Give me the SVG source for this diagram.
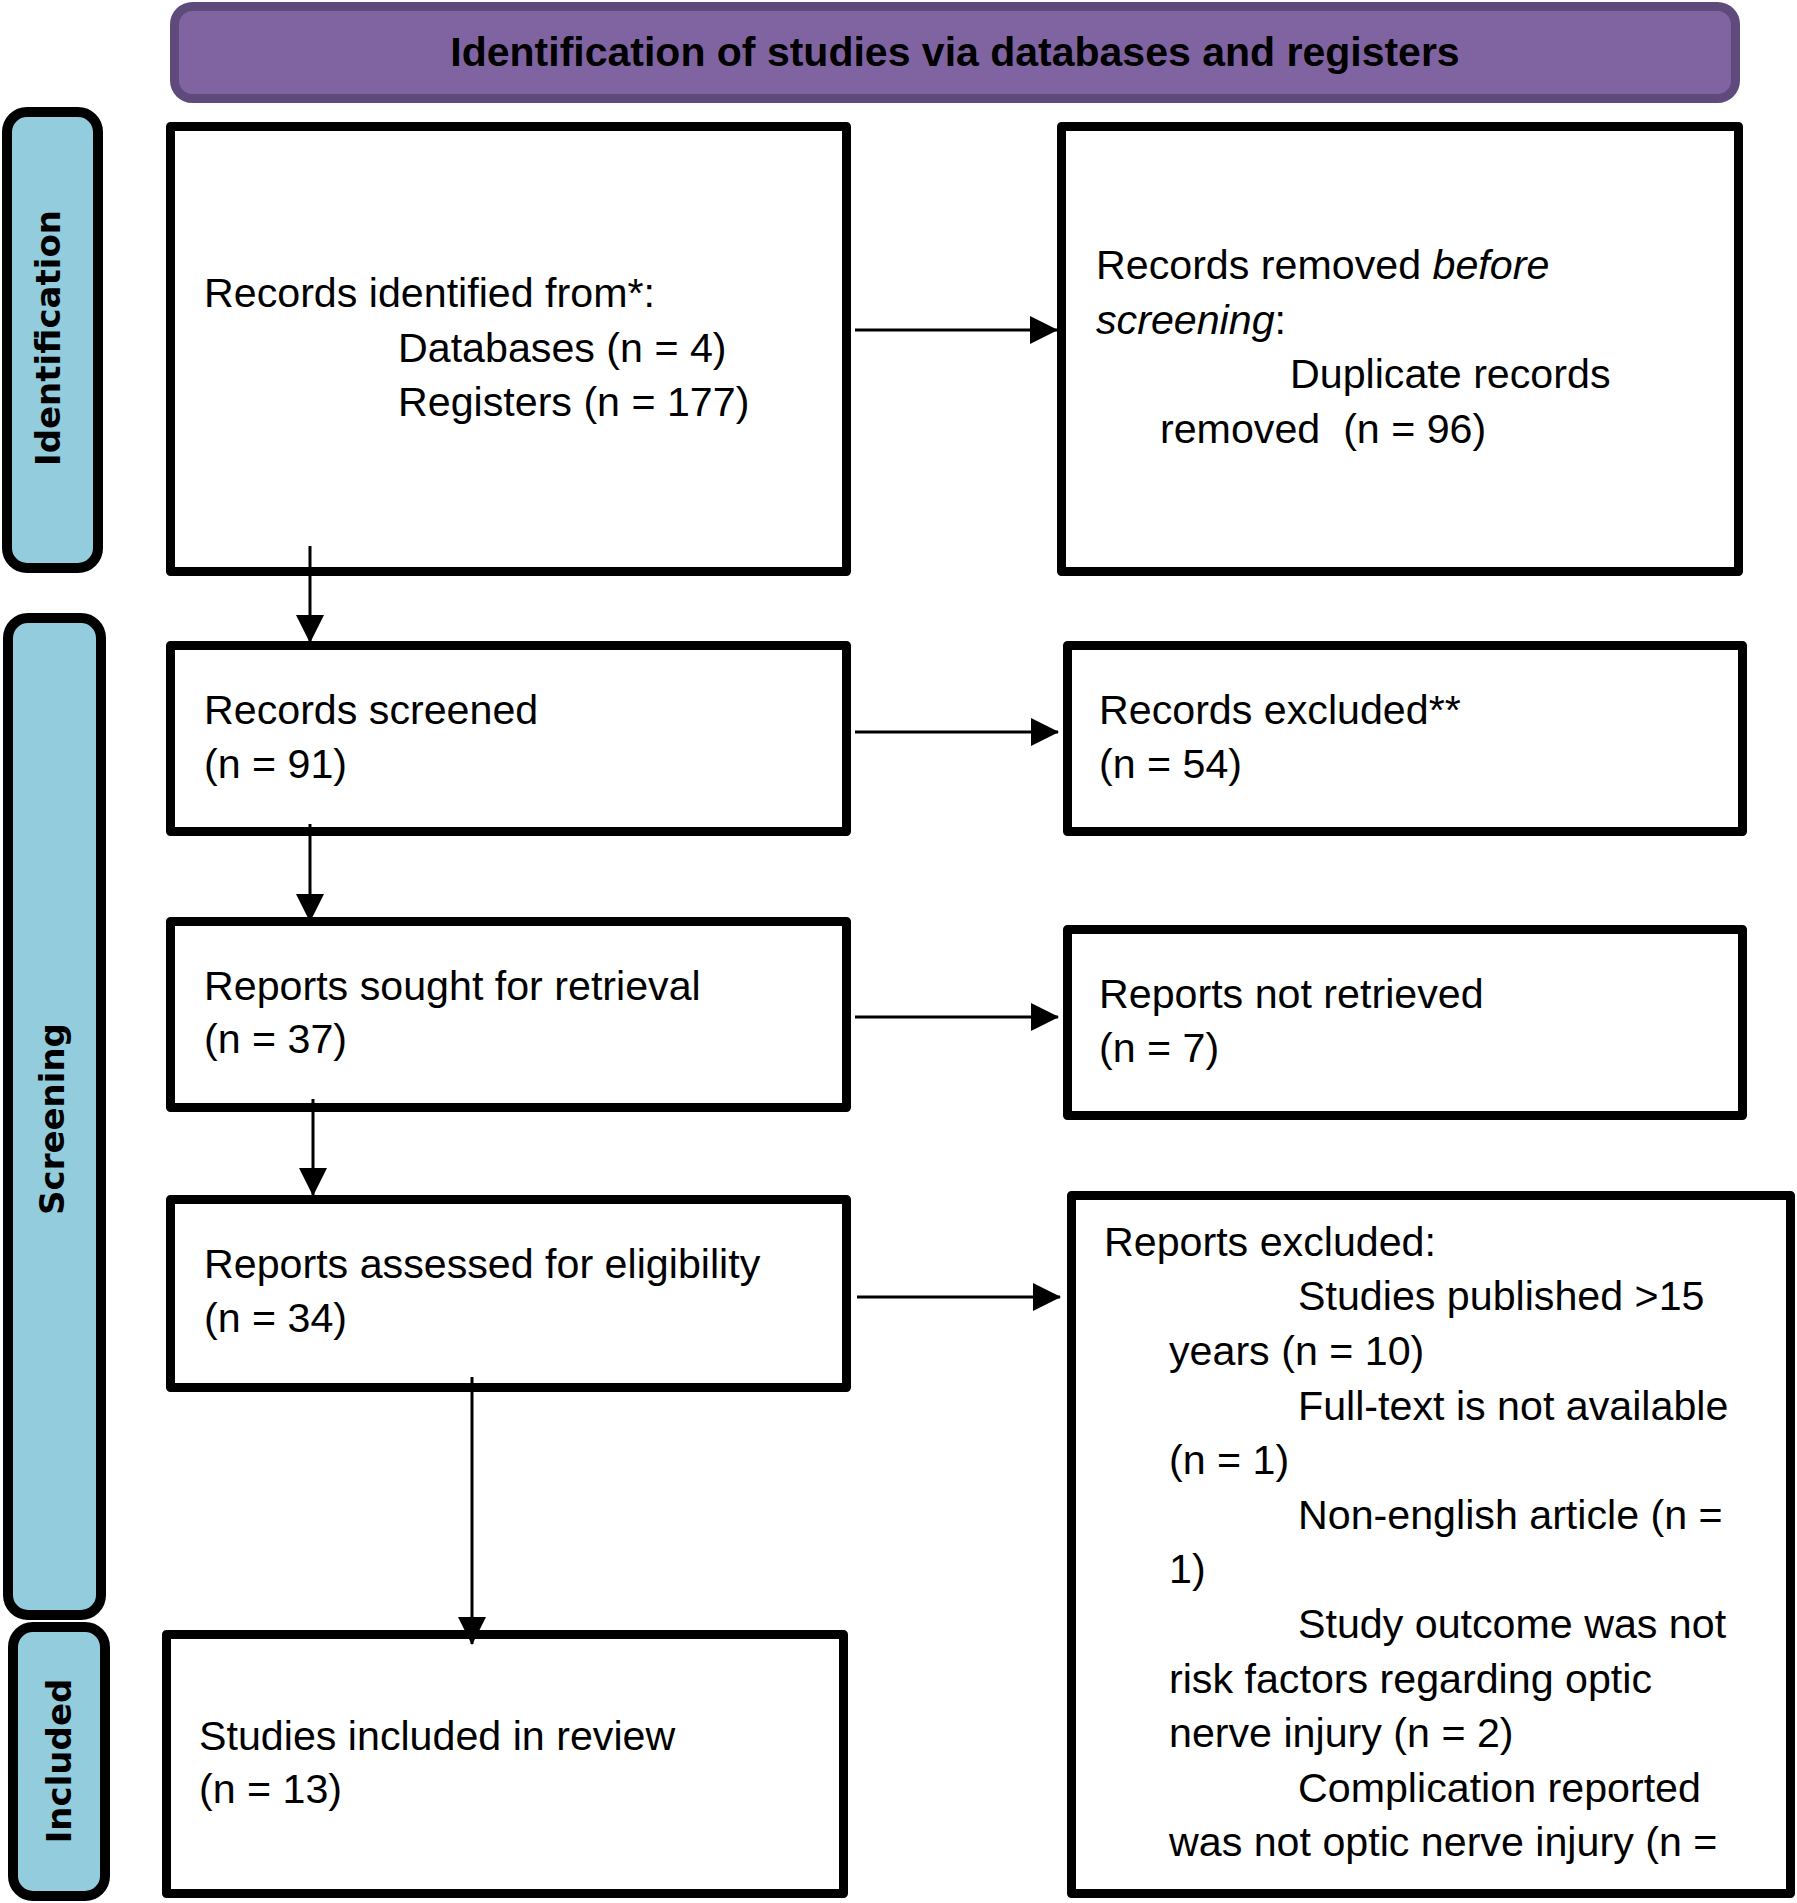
<svg xmlns="http://www.w3.org/2000/svg" width="1797" height="1903" viewBox="0 0 1797 1903">
<style>
.box{fill:#fff;stroke:#000;stroke-width:9;stroke-linejoin:round}
.bar{fill:#93CDDD;stroke:#000;stroke-width:10}
.t{font-family:"Liberation Sans",Arial,sans-serif;font-size:41.2px;fill:#000}
.lab{font-family:"DejaVu Sans",Verdana,sans-serif;font-weight:bold;font-size:34px;fill:#000;text-anchor:middle}
.head{font-family:"Liberation Sans",Arial,sans-serif;font-weight:bold;font-size:41px;fill:#000;text-anchor:middle}
.conn line{stroke:#000;stroke-width:3;fill:none}
</style>
<defs>
<marker id="ah" markerUnits="userSpaceOnUse" markerWidth="28" markerHeight="28" refX="27" refY="14" orient="auto">
<path d="M0,0 L28,14 L0,28 z" fill="#000"/>
</marker>
</defs>
<rect width="1797" height="1903" fill="#fff"/>

<g id="header">
<rect x="174.5" y="6.5" width="1561" height="92" rx="18" fill="#8064A2" stroke="#5F4B7B" stroke-width="9"/>
<text class="head" x="955" y="66">Identification of studies via databases and registers</text>
</g>

<g id="bar-identification">
<rect class="bar" x="7" y="112" width="91" height="456" rx="20"/>
<text class="lab" transform="translate(60,338) rotate(-90)">Identification</text>
</g>
<g id="bar-screening">
<rect class="bar" x="8" y="618" width="93" height="997" rx="20"/>
<text class="lab" transform="translate(64,1119) rotate(-90)">Screening</text>
</g>
<g id="bar-included">
<rect class="bar" x="13" y="1627" width="92" height="269" rx="20"/>
<text class="lab" transform="translate(71,1761) rotate(-90)">Included</text>
</g>

<g id="records-identified">
<rect class="box" x="170.5" y="126.5" width="676" height="445"/>
<text class="t"><tspan x="204" y="307">Records identified from*:</tspan><tspan x="398" y="362">Databases (n = 4)</tspan><tspan x="398" y="416">Registers (n = 177)</tspan></text>
</g>

<g id="records-removed">
<rect class="box" x="1061.5" y="126.5" width="677" height="445"/>
<text class="t" xml:space="preserve"><tspan x="1096" y="279">Records removed <tspan font-style="italic">before</tspan></tspan><tspan x="1096" y="334"><tspan font-style="italic">screening</tspan>:</tspan><tspan x="1290" y="388">Duplicate records</tspan><tspan x="1160" y="443">removed  (n = 96)</tspan></text>
</g>

<g id="records-screened">
<rect class="box" x="170.5" y="645.5" width="676" height="186"/>
<text class="t"><tspan x="204" y="724">Records screened</tspan><tspan x="204" y="778">(n = 91)</tspan></text>
</g>

<g id="records-excluded">
<rect class="box" x="1067.5" y="645.5" width="675" height="186"/>
<text class="t"><tspan x="1099" y="724">Records excluded**</tspan><tspan x="1099" y="778">(n = 54)</tspan></text>
</g>

<g id="reports-sought">
<rect class="box" x="170.5" y="921.5" width="676" height="186"/>
<text class="t"><tspan x="204" y="1000">Reports sought for retrieval</tspan><tspan x="204" y="1053">(n = 37)</tspan></text>
</g>

<g id="reports-not-retrieved">
<rect class="box" x="1067.5" y="929.5" width="675" height="186"/>
<text class="t"><tspan x="1099" y="1008">Reports not retrieved</tspan><tspan x="1099" y="1062">(n = 7)</tspan></text>
</g>

<g id="reports-assessed">
<rect class="box" x="170.5" y="1199.5" width="676" height="188"/>
<text class="t"><tspan x="204" y="1278">Reports assessed for eligibility</tspan><tspan x="204" y="1332">(n = 34)</tspan></text>
</g>

<g id="reports-excluded">
<rect class="box" x="1071.5" y="1195.5" width="719" height="698"/>
<text class="t"><tspan x="1104" y="1256">Reports excluded:</tspan><tspan x="1298" y="1310">Studies published &gt;15</tspan><tspan x="1169" y="1365">years (n = 10)</tspan><tspan x="1298" y="1420">Full-text is not available</tspan><tspan x="1169" y="1474">(n = 1)</tspan><tspan x="1298" y="1529">Non-english article (n =</tspan><tspan x="1169" y="1583">1)</tspan><tspan x="1298" y="1638">Study outcome was not</tspan><tspan x="1169" y="1693">risk factors regarding optic</tspan><tspan x="1169" y="1747">nerve injury (n = 2)</tspan><tspan x="1298" y="1802">Complication reported</tspan><tspan x="1169" y="1856">was not optic nerve injury (n =</tspan></text>
</g>

<g id="studies-included">
<rect class="box" x="166.5" y="1634.5" width="677" height="259"/>
<text class="t"><tspan x="199" y="1750">Studies included in review</tspan><tspan x="199" y="1803">(n = 13)</tspan></text>
</g>

<g id="connectors" class="conn">
<line x1="855" y1="330" x2="1057" y2="330" marker-end="url(#ah)"/>
<line x1="855" y1="732" x2="1058" y2="732" marker-end="url(#ah)"/>
<line x1="855" y1="1017" x2="1058" y2="1017" marker-end="url(#ah)"/>
<line x1="857" y1="1297" x2="1060" y2="1297" marker-end="url(#ah)"/>
<line x1="310" y1="546" x2="310" y2="642" marker-end="url(#ah)"/>
<line x1="310" y1="824" x2="310" y2="921" marker-end="url(#ah)"/>
<line x1="313" y1="1099" x2="313" y2="1195" marker-end="url(#ah)"/>
<line x1="472" y1="1377" x2="472" y2="1644" marker-end="url(#ah)"/>
</g>
</svg>
